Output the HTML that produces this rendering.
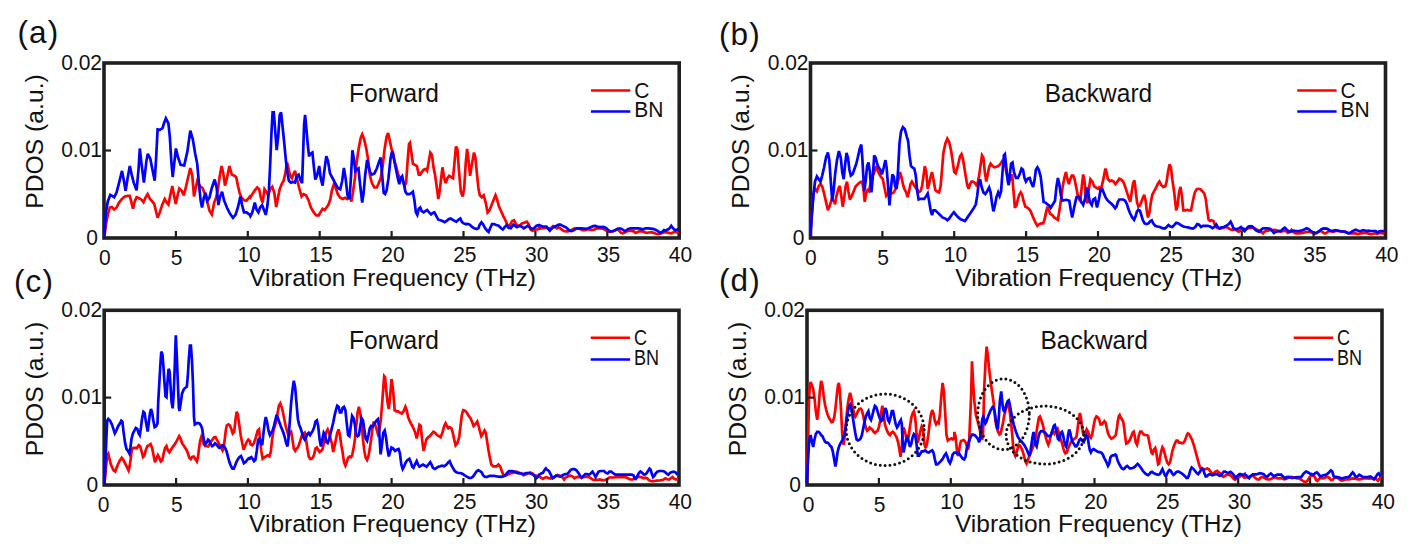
<!DOCTYPE html>
<html><head><meta charset="utf-8"><style>
html,body{margin:0;padding:0;background:#fff;overflow:hidden;}
svg{display:block;}
text{font-family:"Liberation Sans", sans-serif;fill:#111;}
</style></head><body>
<svg width="1420" height="553" viewBox="0 0 1420 553">
<rect x="104.0" y="63.0" width="575.2" height="175" fill="none" stroke="#202020" stroke-width="3.6"/>
<path d="M104.4 236.8L105.9 224.6L107.8 214.9L109.8 207.5L111.7 207L114.2 209.5L116.6 207.5L119 202.6L122 199L124.4 196.8L127.3 195.8L129.8 195.8L131.2 201.4L133 208.8L134.7 201.4L136.6 197.3L139.1 198.3L141.5 199.7L143.5 202.2L145.4 197.8L147.6 194.1L150 199L152.2 201.4L154.2 203.9L155.7 210L157.6 217.8L159.8 212.4L162.3 204.6L164.7 199L166.4 202.2L168.4 204.6L170.3 195.3L172.3 186L174 195.3L175.7 203.9L177.6 195.3L179.3 188.5L181.8 190.9L183.7 195.3L185.4 189.2L187.9 178.2L190.3 168L192.3 175.8L194 196.5L195.7 188L197.2 181.2L198.9 184.3L200.6 186.8L202.5 188L204.5 192.9L206.9 200.2L209.4 210.5L211.8 214.4L214.2 202.6L216.2 197.3L217.9 189.2L219.6 177L221.6 166L223.3 173.4L225 185.6L226.9 178.2L229.4 166L231.8 174.6L234.3 175.8L236.2 177L237.9 185.6L239.6 192.9L241.6 197.8L244 200.2L246.5 200.7L249.9 196.5L250.4 197.3L252.3 194.1L254.8 190.4L257.2 187.5L259.2 189.2L260.9 197.8L262.6 202.6L264.5 189.2L266.2 191.7L268.2 195.3L270.1 189.2L272.3 186.8L274.3 192.9L276.2 207L278 197.8L279.7 189.2L281.6 184.3L283.6 180.7L285.3 173.4L287 162.4L288.5 168.5L290.2 175.8L291.9 178.2L293.3 174.6L295 170.9L296.8 178.2L299.2 188L301.6 196.5L303.6 194.1L306 195.3L308.5 200.2L310.9 207.5L313.8 212.4L316.3 215.3L318.7 215.3L320.7 211.9L322.6 208.8L324.6 210L326.5 207.5L328.5 204.6L330.4 199L331.9 190.4L333.9 184.3L335.8 188L337.8 194.1L340.2 197.8L342.6 199L345.1 197.8L347 199L349.5 196.5L351.4 201.4L352.9 192.9L354.9 178.2L356.8 161.1L358.8 147.7L360.7 138L362.2 134.3L364.1 139.2L366.1 147.7L368 158.7L370 175.8L371.9 183.1L374.4 187.5L376.8 187.5L378.8 183.1L380.7 178.2L382.7 166L384.6 148.9L386.6 136.7L388.1 133.1L390 141.6L391.5 148.9L393.4 153.8L394.4 161.1L396.1 166L397.8 173.4L399.3 177L401 178.2L402.7 180.7L404.6 185.6L406.1 183.1L407.6 161.1L409 144.1L410 142.8L411.5 153.8L412.9 163.6L414.9 164.8L416.9 166L418.8 174.6L420.3 174.6L421.7 172.1L423.7 169.7L425.6 169L427.1 170.9L428.6 162.4L430.3 152.6L432 155L433.5 167.3L435.2 175.8L436.9 188L438.3 199L439.8 190.4L441.3 177L442.5 167.3L444.2 178.2L445.7 183.1L447.4 178.2L449.1 175.8L451 177L453 178.2L454.4 163.6L455.9 146.5L457.4 148.9L458.8 168.5L460.8 191.7L462.7 196.5L464.2 188L465.7 163.6L467.1 148.9L468.6 161.1L470.1 175.8L472 163.6L474 152.6L475.4 157.5L476.9 173.4L478.4 188L479.8 195.3L481.8 197.3L483.7 195.3L485.7 202.6L487.6 212.4L489.6 210L491.6 205.1L493.5 200.2L495.5 195.3L496.9 199L498.9 206.3L501.1 211.2L503.3 216.1L505.2 219.7L507.2 224.6L509.6 225.8L512.1 221L514 220.2L516 224.1L517.9 225.8L519.9 225.8L521.8 223.4L524.3 222.7L526.7 221.7L528.7 224.1L530.6 229.5L532.6 230.7L534.5 230L536.5 229.5L538.9 229L539 227.7L541.1 228.3L543.5 228.1L545.9 227.7L547.7 228.3L549.5 228.9L551.4 227.7L553.2 226.1L555 226.9L556.8 228.3L558.6 227.3L560.4 228.3L562.3 230.1L564.1 231L565.9 231.3L567.7 231.3L569.5 231L571.3 230.1L573.2 228.9L575 228.3L577.4 228.3L579.8 228.9L582.3 230.1L584.7 230.1L587.1 229.5L589.5 229.5L591.9 230.1L594.4 229.5L596.8 228.3L599.2 228.3L601.6 228.3L604.1 229.3L606.5 230.7L608.3 231.7L610.1 231.9L612.5 231.3L615 230.1L617.4 228.9L619.2 230.7L621 232.9L622.8 233.4L624.7 232.5L627.1 231.3L629.5 230.7L631.9 231L633.7 231.3L635.6 232.9L637.4 232.2L639.2 231.3L641.6 231.3L644 231.9L646.5 232.9L648.9 232.5L651.3 232.2L653.7 232.9L656.2 233.8L658 234.1L659.8 233.8L661.6 233.2L663.4 232.5L665.2 232.2L667.1 232.5L668.9 232.9L670.7 233.4L672.5 232.9L674.3 231.9L676.1 231.9L677.4 232.5L678.3 233.2" fill="none" stroke="#ff0000" stroke-width="2.7" stroke-linejoin="miter" stroke-miterlimit="3" stroke-linecap="butt"/>
<path d="M104.4 236.8L105.9 212.4L107.8 201.4L110.3 194.8L112.2 195.8L114.2 197.3L116.6 192.4L119 183.1L122 170.9L123.9 180.7L125.6 190.9L127.6 178.2L129.8 166L131.7 174.6L133.7 182.6L136.6 190.4L138.6 168.5L139.8 148.5L141.5 163.6L143.9 182.6L146.4 161.1L147.8 153.8L150.3 158.7L152.2 168.5L154.7 180.7L156.1 158.7L157.6 129.4L159.8 129.9L162.5 128.2L164 123.3L165.9 118.4L168.4 123.3L169.8 136.7L171.3 161.1L172.7 177L174.2 163.6L175.9 148.5L178.1 157.5L180.6 164.8L184.2 165.5L187.4 151.4L190.3 130.6L192.8 139.2L195.2 153.8L197.2 163.6L198.9 183.1L200.6 200.2L202 207.5L203.8 197.8L205.5 192.9L207.4 200.7L209.4 197.8L211.8 188L214.7 179.5L216.7 188L218.4 205.1L220.1 196.5L222.1 191.7L224 200.2L226.9 207.5L229.9 213.6L233 217.8L235.5 214.9L237.9 207.5L240.4 196.5L242.1 205.1L244 212.4L246.5 212.4L249.9 214.9L250.4 216.1L252.3 212.4L254.8 202.6L256.7 210L258.4 212.4L260.1 207.5L262.1 205.1L264 210L265.8 214.9L267.5 205.1L268.9 190.4L270.1 166L271.4 134.3L272.6 112.3L273.8 112.3L275.3 131.9L276.7 150.2L278.2 136.7L279.7 114.8L281.1 112.3L282.6 127L284.1 141.6L285.5 156.3L287 170.9L288.9 180.7L290.9 182.6L292.8 181.9L295 182.6L296.8 175.8L298.7 174.6L300.7 180.7L302.1 183.1L303.1 153.8L304.1 124.5L305.1 114.8L306 124.5L307.5 141.6L309 156.3L310.4 153.8L312.4 152.6L313.8 166L315.3 179.5L317 175.8L319.2 166L320.7 178.2L322.6 185.6L324.3 170.9L326.3 156.3L328 161.1L330 173.4L331.9 177L333.9 180.7L335.8 184.3L337.8 188L340.2 189.2L342.2 180.7L343.9 168L345.6 178.2L347.5 195.3L349.5 199L350.9 178.2L352.4 150.2L353.9 158.7L355.3 170.9L356.8 169.7L358.5 168.5L360.2 185.6L362.2 202.6L363.6 192.9L365.1 175.8L367.1 159.9L368.5 166L370 172.1L371.9 174.6L374.4 173.4L376.8 168.5L378.8 162.4L380.7 157.5L382.2 175.8L383.7 192.9L385.1 194.1L386.6 190.4L388.5 178.2L390.5 158.7L392 151.4L393.9 158.7L394.4 161.1L396.1 169.7L397.8 178.2L399.3 184.3L400.7 178.2L402.2 176.3L403.7 183.1L405.4 191.7L407.1 194.1L409.5 194.1L411.5 192.9L412.9 191.7L414.4 200.2L415.9 212.4L417.3 214.9L418.8 208.8L420.3 207.5L421.7 211.2L423.7 212.4L425.4 211.2L427.1 210L429.1 212.4L431 214.4L432.7 212.9L434.4 212.4L436.4 216.1L438.3 219.7L440.3 220.2L442.5 221L444.7 222.2L446.6 221L448.6 219.2L450.5 218.5L452.5 219.7L454.7 221L456.4 221.7L458.4 219.7L460.3 218.5L462 222.2L463.7 223.4L465.7 224.1L467.6 223.9L469.6 224.6L471.8 226.6L474.2 228.3L476.7 229L478.4 228.3L479.8 224.6L481.5 222.2L483.3 224.6L485.2 228.3L487.2 230.7L488.6 231.9L490.1 228.3L492 224.1L494 224.1L496.2 225.1L498.6 225.8L501.1 228.3L502.8 229.5L504.7 227.1L506.7 225.1L508.6 227.8L510.8 228.3L513.3 224.6L515 225.8L516.9 227.1L519.4 225.8L521.8 226.6L523.8 228.3L525.7 227.1L527.7 225.8L529.6 227.1L531.6 229L534 228.3L536.5 225.8L538.9 225.1L539 225.3L540.5 225.6L542.3 226.5L544.7 226.5L546.5 226.5L548.3 228.9L549.8 230.7L551.4 228.9L553.2 227.3L555 226.5L556.8 225.6L558.6 224.7L560.4 224.7L562.3 225.6L564.1 226.5L565.9 227.3L567.7 228.9L569.5 230.5L571.3 231L573.2 230.5L575 229.3L576.8 228.3L578.6 228.3L581 228.3L583.5 228.6L585.9 228.9L588.3 228.3L590.7 227.3L593.2 226.1L595.6 225.9L598 226.9L600.4 227.1L602.8 226.9L604.7 227.3L606.5 228.3L608.3 230.1L610.1 231.3L611.9 231.3L613.8 231L615.6 230.1L617.4 228.9L619.8 228.3L621.6 228.9L623.4 230.1L624.9 231L626.5 230.1L628.3 228.9L630.7 228.3L633.1 228.3L635.6 228.3L638 228.3L640.4 228.6L642.2 229.5L644 228.9L645.9 228.3L648.3 228.3L650.7 228.6L653.1 228.9L654.9 229.5L656.8 230.5L658.6 231.7L660.4 232.9L662.2 231.9L664 230.1L665.8 230.7L667.7 229.5L669.5 228.3L671.3 225.9L672.5 227.7L674.1 229.5L675.5 230.1L677.4 229.5L678.3 228.9" fill="none" stroke="#0000ff" stroke-width="2.7" stroke-linejoin="miter" stroke-miterlimit="3" stroke-linecap="butt"/>
<line x1="175.9" y1="238.0" x2="175.9" y2="231.0" stroke="#1e1e1e" stroke-width="2.2"/>
<line x1="247.8" y1="238.0" x2="247.8" y2="231.0" stroke="#1e1e1e" stroke-width="2.2"/>
<line x1="319.7" y1="238.0" x2="319.7" y2="231.0" stroke="#1e1e1e" stroke-width="2.2"/>
<line x1="391.6" y1="238.0" x2="391.6" y2="231.0" stroke="#1e1e1e" stroke-width="2.2"/>
<line x1="463.5" y1="238.0" x2="463.5" y2="231.0" stroke="#1e1e1e" stroke-width="2.2"/>
<line x1="535.4" y1="238.0" x2="535.4" y2="231.0" stroke="#1e1e1e" stroke-width="2.2"/>
<line x1="607.3" y1="238.0" x2="607.3" y2="231.0" stroke="#1e1e1e" stroke-width="2.2"/>
<line x1="104.0" y1="150.5" x2="111.0" y2="150.5" stroke="#1e1e1e" stroke-width="2.2"/>
<text transform="translate(104.9,264.5) scale(1,1.04)" font-size="21" text-anchor="middle">0</text>
<text transform="translate(176.6,265) scale(1,1.04)" font-size="21" text-anchor="middle">5</text>
<text transform="translate(249.1,262.2) scale(1,1.04)" font-size="21" text-anchor="middle">10</text>
<text transform="translate(321.0,262.2) scale(1,1.04)" font-size="21" text-anchor="middle">15</text>
<text transform="translate(392.9,262.2) scale(1,1.04)" font-size="21" text-anchor="middle">20</text>
<text transform="translate(464.8,262.2) scale(1,1.04)" font-size="21" text-anchor="middle">25</text>
<text transform="translate(536.7,262.2) scale(1,1.04)" font-size="21" text-anchor="middle">30</text>
<text transform="translate(608.6,262.2) scale(1,1.04)" font-size="21" text-anchor="middle">35</text>
<text transform="translate(680.5,262.2) scale(1,1.04)" font-size="21" text-anchor="middle">40</text>
<text transform="translate(102.0,69.5) scale(1,1.04)" font-size="21" text-anchor="end">0.02</text>
<text transform="translate(102.0,157) scale(1,1.04)" font-size="21" text-anchor="end">0.01</text>
<text transform="translate(98.0,244.5) scale(1,1.04)" font-size="21" text-anchor="end">0</text>
<text x="392.6" y="286.1" font-size="24.5" text-anchor="middle">Vibration Frequency (THz)</text>
<text font-size="24.7" text-anchor="middle" transform="translate(43.3,141.5) rotate(-90)">PDOS (a.u.)</text>
<text transform="translate(394.0,101.8) scale(1,1.06)" font-size="24.5" text-anchor="middle">Forward</text>
<line x1="590.95" y1="90.5" x2="630.3000000000001" y2="90.5" stroke="#ff0000" stroke-width="2.5"/>
<line x1="590.95" y1="111.6" x2="630.3000000000001" y2="111.6" stroke="#0000ff" stroke-width="2.5"/>
<text transform="translate(634.2,98) scale(1.0,1.04)" font-size="21">C</text>
<text transform="translate(634.2,117) scale(1.0,1.04)" font-size="21">BN</text>
<text x="17.5" y="43.2" font-size="31.5" letter-spacing="1.1">(a)</text>
<rect x="810.5" y="63.0" width="575" height="175" fill="none" stroke="#202020" stroke-width="3.6"/>
<path d="M810.3 236.5L811.7 215L813.4 193.5L815 188.8L816.9 191.2L818.8 185.9L820.5 184L822.2 186.4L824.1 193.5L826 201.9L827.9 210.3L829.8 205.5L831.7 199.5L833.6 200.7L835.1 204.3L836.5 195.9L838.4 188.8L839.8 185.9L841.3 195.9L842.7 206.7L844.1 198.3L845.6 186.4L847 181.6L848.4 191.2L849.9 199.5L851.8 195.9L853.7 191.2L855.6 186.4L858 184L860.4 182.1L862.3 181.6L863.7 191.2L864.7 201.9L866.1 193.5L867.5 190L869 191.2L870.4 184L872.3 176.8L874.2 172.5L876.1 166.1L877.8 170.9L879.5 174.4L880.9 176.8L882.8 179.2L884.7 188.8L886.2 195.9L888.1 193.5L890 193.5L891.9 193.5L893.8 192.4L895.7 188.8L897.1 184L898.6 179.2L900 172.1L901.4 176.8L902.9 184L904.3 188.8L906.2 192.4L907.6 197.1L909.1 191.2L910.5 184L911.9 181.6L913.4 184L914.8 186.4L916.7 188.8L918.6 192.4L920.5 191.2L922 186.4L923.4 176.8L924.8 166.1L926.3 172.1L927.7 188.8L929.1 184L930.6 176.8L932 172.1L933.4 179.2L935.3 190L937.2 191.6L939.1 192.4L940.6 186.4L942 169.7L943.4 153L945.4 143.4L947.3 138.6L949.2 142.2L951.1 150.6L952.5 160.1L953.9 169.7L954.3 172.1L955.7 173.3L957.2 168.5L958.6 162.5L960 156.5L961.5 154.2L962.9 158.9L964.3 167.3L965.8 176.8L967.2 185.2L968.6 188.8L970.1 184L971.5 181.6L972.9 181.6L974.8 182.8L976.3 185.2L977.7 182.8L979.1 175.6L980.6 164.9L982 155.4L983.4 157.7L984.8 172.1L986.3 181.6L987.7 174.4L989.1 167.3L990.6 163.7L992.5 166.1L994.4 167.3L996.3 166.8L998.2 166.1L1000.1 164.4L1002 161.3L1003.9 163.7L1005.4 167.3L1007.3 176.8L1009.2 181.6L1010.6 178L1012.1 174.4L1013.5 191.2L1014.9 207.9L1016.4 205.5L1017.8 199.5L1019.2 194.7L1020.7 192.4L1022.1 194.7L1023.5 200.7L1025.4 206.7L1027.8 207.9L1030.2 210.3L1032.1 215L1034 219.3L1035.9 223.4L1037.4 225.8L1039.3 224.1L1041.2 223.4L1043.1 223.4L1044.5 219.8L1046 212.6L1047.4 206.7L1048.8 210.3L1050.3 213.8L1052.2 215L1054.1 217.4L1056 218.6L1057.9 219.8L1059.8 207.9L1061.2 198.3L1062.7 186.4L1064.6 176.8L1066 172.1L1067.4 179.2L1068.9 184L1070.3 179.2L1071.7 175.6L1073.2 175.6L1074.6 179.2L1076.5 188.8L1078.4 198.3L1080.3 200.7L1081.8 186.4L1083.2 174.4L1084.6 181.6L1086.1 200.7L1087.5 203.1L1088.9 188.8L1090.4 179.2L1092.3 181.6L1094.2 186.4L1096.1 187.6L1098 188.8L1098.9 187.6L1099.3 188.3L1100.3 188.8L1101.7 186.4L1103.1 180.4L1104.5 173.3L1105.5 168.5L1106.5 172.1L1107.9 179.2L1109.8 181.1L1111.7 180.4L1113.6 181.6L1115.5 184L1117.4 181.6L1119.3 178.7L1121.3 179.7L1123.2 181.6L1125.1 186.4L1127 192.4L1128.9 198.3L1130.3 201.9L1131.8 191.2L1133.2 182.8L1134.4 180.4L1135.6 190L1137 201.9L1138.4 206.7L1139.9 205.5L1141.3 201.9L1142.7 198.3L1144.2 194.7L1145.6 200.7L1147 212.6L1148 217.4L1149.4 212.6L1150.9 201.9L1152.3 194.7L1154.2 191.2L1156.1 187.6L1158 183.5L1159.4 181.6L1161.4 185.2L1163.3 186.9L1165.2 186.4L1166.6 181.6L1168 172.1L1169.5 164.4L1170.9 167.3L1172.3 179.2L1174.2 192.4L1176.2 210.3L1177.6 205.5L1179 192.4L1180.5 186.9L1181.9 195.9L1183.3 210.3L1185.2 210.3L1187.1 209.8L1189 210.3L1191 210.3L1192.9 200.7L1194.8 192.4L1196.7 189.2L1198.6 188.8L1200.5 189.2L1202.4 191.2L1204.3 193.5L1205.8 199.5L1207.2 210.3L1208.6 219.8L1210.1 221L1211.5 220.3L1213.4 221L1214.8 224.6L1216.7 227.4L1218.6 228.4L1220.6 228.4L1222.9 227.9L1225.3 227L1227.7 227.7L1230.1 229.3L1232.5 229.8L1234.9 229.3L1236.8 230.5L1238.7 231.7L1240.6 230.5L1243 229.3L1243 229.5L1244.8 230.1L1246.7 228.9L1248.5 228.1L1250.3 228.1L1252.1 227.3L1253.9 228.1L1255.8 228.9L1257.6 230.1L1259.4 230.7L1261.2 231.9L1263 233.4L1264.2 231.9L1266 231L1267.9 230.7L1269.7 230.1L1271.5 229.8L1273.3 230.1L1275.1 229.8L1277 230.5L1278.8 231L1280.6 231.9L1282.4 231.3L1284.2 230.7L1286 231.3L1287.9 232.9L1289.7 231.9L1291.5 229.8L1293.3 231.9L1295.1 233.2L1296.9 233.4L1298.8 233.4L1300.6 233.2L1302.4 232.9L1304.2 232.5L1306 232.2L1307.8 231.9L1309.7 231.9L1311.5 232.2L1313.3 233.2L1315.1 233.4L1316.9 232.9L1318.8 231.7L1320.6 231L1322.4 231.9L1324.2 233.4L1326 233.2L1327.8 231.7L1329.7 231L1331.5 231.3L1333.3 231.9L1335.1 231.3L1336.9 230.7L1338.7 231L1340.6 231.3L1342.4 231.3L1344.2 231.3L1346 231.9L1347.8 232.9L1349.6 233.4L1351.5 233.4L1353.3 233.4L1355.1 233.2L1356.9 233.8L1358.7 233.8L1360.6 233.4L1362.4 233.2L1364.2 232.9L1366 232.9L1367.8 233.4L1369.6 233.8L1371.5 234.1L1373.3 233.8L1375.1 233.2L1376.9 233.8L1378.7 233.2L1380.5 232.9L1382.4 233.2L1384.2 233.8" fill="none" stroke="#ff0000" stroke-width="2.7" stroke-linejoin="miter" stroke-miterlimit="3" stroke-linecap="butt"/>
<path d="M810.3 236.5L811.7 217.4L813.4 195.9L815 181.6L816.9 176.4L818.8 179.2L820.5 181.6L822.2 175.6L824.1 167.3L826 157.7L827.9 152.5L829.3 160.1L830.8 181.6L832.2 200.7L833.6 191.2L835.1 174.4L837 160.1L838.9 151.1L840.8 157.7L842.2 172.1L843.7 179.2L845.1 164.9L846.5 153L848 157.7L849.4 169.7L850.8 175.6L852.7 174L854.6 168.5L856.3 163.7L858 156.5L859.9 148.2L861.3 144.6L862.3 157.7L863.2 174.4L864.2 191.2L865.6 181.6L867.1 166.1L868.5 162.5L869.9 172.1L871.4 192.4L872.8 176.8L874.2 155.4L875.7 157.7L877.1 163.7L878.5 167.3L880.2 169.7L881.9 174.4L883.8 167.3L885.4 160.1L886.6 167.3L888.1 186.4L889.5 205.5L890.9 188.8L892.4 174.4L893.8 176.8L895.2 186.4L896.7 188.8L898.1 169.7L899.5 143.4L901 131.5L902.9 127.2L904.8 129.1L906.7 136.3L908.1 141L909.5 155.4L911 166.1L912.4 167.3L914.3 168.5L915.8 175.6L917.2 191.2L918.6 199.5L920.5 198.8L922.4 198.8L924.3 198.8L926.3 195.9L927.7 193.5L929.1 200.7L930.6 210.3L932 215L933.4 210.3L935.3 210.3L937.7 212.6L940.1 215L942.5 217.4L945.4 218.6L947.3 220.3L949.2 218.6L951.6 215L953.9 212.2L954.3 212.6L956 215L958.4 217.4L960.7 219.3L963.1 220.3L964.8 221L966.7 218.6L969.1 215L971.5 211.4L973.9 207.9L975.8 204.3L977.2 195.9L978.6 184L980.1 179.2L981.5 186.4L983.4 192.4L985.3 194L987.2 191.2L989.1 187.6L990.6 192.4L992 203.1L993.4 211.4L994.9 205.5L996.5 197.1L998.2 192.4L999.6 195.9L1001.1 191.2L1002.5 172.1L1003.9 155.4L1004.9 154.2L1006.3 167.3L1007.8 181.6L1008.7 185.2L1009.7 175.6L1011.1 163.7L1012.5 162.5L1014 172.1L1015.9 178L1017.8 178L1019.7 174L1021.6 168.5L1023 169.7L1024.5 178L1025.9 181.6L1027.8 178.7L1029.7 178L1031.2 182.8L1033.1 186.9L1034.5 180.4L1035.9 169.7L1037.4 167.3L1038.8 169.7L1040.7 176.8L1042.1 188.8L1043.6 201.9L1045.5 202.6L1047.4 204.3L1049.3 205.5L1050.7 207.9L1052.2 205.5L1053.6 203.1L1055 200.7L1056.5 186.4L1057.9 178L1059.3 184L1060.8 194.7L1062.2 200.7L1064.1 200.2L1066 199.8L1067.9 200.2L1069.3 200.7L1070.8 210.3L1072.2 217.4L1073.6 210.3L1075.1 203.1L1076.5 197.1L1077.9 196.4L1079.4 197.1L1081.3 201.9L1083.2 205L1085.1 198.3L1087 187.6L1088.4 194.7L1089.9 201.9L1091.8 205L1093.2 199.5L1095.1 198.3L1097 207.4L1098.9 199.5L1100.7 188.8L1102.2 188.8L1103.6 192.4L1105.5 197.1L1107.4 200.2L1109.3 201.9L1111.2 203.6L1113.1 205.5L1115.1 208.3L1116.5 206.7L1117.9 201.9L1119.3 199.5L1121.3 199.5L1123.2 199.5L1125.1 200.7L1127 204.3L1128.4 209.1L1130.3 213.8L1132.2 217.4L1134.1 219.8L1135.6 216.2L1137 211.4L1138.4 209.8L1139.9 210.7L1141.3 215L1142.7 219.8L1144.6 223.4L1146.6 224.1L1148.5 223.4L1150.4 221L1151.8 220.3L1153.2 223.4L1155.2 225.8L1157.5 226.5L1159.9 227L1162.3 228.2L1164.7 228.6L1166.6 227L1168.5 225.1L1170.4 226.5L1172.3 227L1174.2 225.1L1176.2 222.7L1178.5 223.4L1180.9 225.1L1183.3 226.5L1185.7 227L1188.1 227.4L1190.5 228.2L1192.9 228.6L1195.3 227L1197.2 224.1L1199.1 224.6L1201 227L1202.9 225.8L1205.3 225.8L1207.7 225.8L1210.1 226.5L1212.4 228.2L1214.3 227L1216.3 224.6L1217.7 227L1219.6 228.4L1221.5 227.4L1223.9 227L1226.3 225.8L1228.7 224.1L1230.6 221.7L1232 224.6L1233.4 228.2L1235.4 229.3L1237.3 228.9L1239.2 228.2L1241.1 227L1243 229.3L1243 228.3L1244.8 230.7L1246.7 228.3L1248.5 226.5L1250.3 226.1L1252.1 226.5L1253.9 228.3L1255.8 230.1L1257.6 231.3L1259.4 231.7L1261.2 229.8L1263 228.3L1265.4 228.3L1267.9 228.3L1270.3 228.9L1272.1 230.7L1273.9 232.9L1275.7 231.9L1277.6 231.3L1279.4 231L1281.2 230.7L1283 228.9L1284.8 227.7L1286.6 229.5L1288.5 231.3L1290.3 231.9L1292.1 231.3L1293.9 230.7L1295.7 231L1297.5 231L1299.4 231L1301.2 230.7L1303 230.1L1304.8 229.3L1306.6 228.3L1308.5 228.9L1310.3 230.5L1312.1 231.9L1313.9 232.9L1315.7 233.2L1317.5 232.2L1319.4 231L1321.2 229.5L1323 228.6L1324.8 228.3L1326.6 228.6L1328.4 229.5L1330.3 230.7L1332.1 231L1333.9 230.5L1335.7 230.1L1337.5 230.7L1339.3 231L1341.2 231.3L1343 231.3L1344.8 231.9L1346.6 232.5L1348.4 233.4L1350.3 232.9L1352.1 231.3L1353.9 230.5L1355.7 229.8L1357.5 230.5L1359.3 231L1361.2 231L1363 230.1L1364.8 230.5L1366.6 231L1368.4 230.7L1370.2 231L1372.1 231L1373.9 231L1375.7 231L1377.5 232.5L1379.3 231.3L1381.1 231L1383 231L1384.2 231.3" fill="none" stroke="#0000ff" stroke-width="2.7" stroke-linejoin="miter" stroke-miterlimit="3" stroke-linecap="butt"/>
<line x1="882.4" y1="238.0" x2="882.4" y2="231.0" stroke="#1e1e1e" stroke-width="2.2"/>
<line x1="954.2" y1="238.0" x2="954.2" y2="231.0" stroke="#1e1e1e" stroke-width="2.2"/>
<line x1="1026.1" y1="238.0" x2="1026.1" y2="231.0" stroke="#1e1e1e" stroke-width="2.2"/>
<line x1="1098.0" y1="238.0" x2="1098.0" y2="231.0" stroke="#1e1e1e" stroke-width="2.2"/>
<line x1="1169.9" y1="238.0" x2="1169.9" y2="231.0" stroke="#1e1e1e" stroke-width="2.2"/>
<line x1="1241.8" y1="238.0" x2="1241.8" y2="231.0" stroke="#1e1e1e" stroke-width="2.2"/>
<line x1="1313.6" y1="238.0" x2="1313.6" y2="231.0" stroke="#1e1e1e" stroke-width="2.2"/>
<line x1="810.5" y1="150.5" x2="817.5" y2="150.5" stroke="#1e1e1e" stroke-width="2.2"/>
<text transform="translate(810.9,264.5) scale(1,1.04)" font-size="21" text-anchor="middle">0</text>
<text transform="translate(883.1,265) scale(1,1.04)" font-size="21" text-anchor="middle">5</text>
<text transform="translate(955.5,262.2) scale(1,1.04)" font-size="21" text-anchor="middle">10</text>
<text transform="translate(1027.4,262.2) scale(1,1.04)" font-size="21" text-anchor="middle">15</text>
<text transform="translate(1099.3,262.2) scale(1,1.04)" font-size="21" text-anchor="middle">20</text>
<text transform="translate(1171.2,262.2) scale(1,1.04)" font-size="21" text-anchor="middle">25</text>
<text transform="translate(1243.0,262.2) scale(1,1.04)" font-size="21" text-anchor="middle">30</text>
<text transform="translate(1314.9,262.2) scale(1,1.04)" font-size="21" text-anchor="middle">35</text>
<text transform="translate(1386.8,262.2) scale(1,1.04)" font-size="21" text-anchor="middle">40</text>
<text transform="translate(808.5,69.5) scale(1,1.04)" font-size="21" text-anchor="end">0.02</text>
<text transform="translate(808.5,157) scale(1,1.04)" font-size="21" text-anchor="end">0.01</text>
<text transform="translate(804.5,244.5) scale(1,1.04)" font-size="21" text-anchor="end">0</text>
<text x="1098.7" y="286.1" font-size="24.5" text-anchor="middle">Vibration Frequency (THz)</text>
<text font-size="24.7" text-anchor="middle" transform="translate(748.9,141.5) rotate(-90)">PDOS (a.u.)</text>
<text transform="translate(1098.4,101.8) scale(1,1.06)" font-size="24.5" text-anchor="middle">Backward</text>
<line x1="1297.25" y1="90.5" x2="1336.6" y2="90.5" stroke="#ff0000" stroke-width="2.5"/>
<line x1="1297.25" y1="111.6" x2="1336.6" y2="111.6" stroke="#0000ff" stroke-width="2.5"/>
<text transform="translate(1340.5,98) scale(1.0,1.04)" font-size="21">C</text>
<text transform="translate(1340.5,117) scale(1.0,1.04)" font-size="21">BN</text>
<text x="719.0" y="44.7" font-size="31.5" letter-spacing="1.1">(b)</text>
<rect x="104.2" y="310.3" width="574.8" height="174.7" fill="none" stroke="#202020" stroke-width="3.6"/>
<path d="M104.5 484L105.8 469.6L107.2 455.1L108.3 453.7L109.4 458.7L110.8 464.1L112.3 467.8L113.7 470.5L115.2 471.4L116.6 467.8L118.1 464.1L119.9 460.5L121.7 457.8L123.1 459.6L125 463.2L126.8 466.9L128.6 470.5L129.7 465.9L130.7 458.7L131.8 449.7L133.3 447.9L135.1 447.9L136.9 448.2L138.7 445.2L140.1 446.1L141.6 451.5L143 456.9L144.5 455.1L145.9 449.7L147.4 446.1L149.2 445.2L150.6 444.2L152.1 447.9L153.5 455.1L155 462.3L156.4 458.7L157.9 455.1L159.3 457.8L160.8 461.4L162.2 460.5L163.7 453.3L165.1 447.9L166.5 446.1L168 450.6L169.4 452.4L170.9 449.7L172.3 447.5L174.1 445.2L175.9 442.4L177.8 438.8L179.2 436.1L180.7 438.8L182.1 443.3L183.5 445.2L185 447.5L186.4 449.7L187.9 453.3L189.3 457.8L190.8 459.1L192.2 456.9L193.7 456.5L195.1 458.7L196.9 461.4L198 456.9L199.1 447.9L200.2 440.6L201.3 437L202.4 439.7L203.8 444.2L205.2 446.1L206.7 446.1L208.1 446.4L209.6 444.2L211 441.5L212.5 439.7L213.9 437.4L215.4 437L216.8 439.7L218.3 442.4L219.7 445.2L221.2 447.9L222.6 450.6L223.7 447.9L224.8 438.8L225.9 429.8L226.9 425.3L228.4 424.4L229.8 425.3L231.3 428.9L232.7 433.4L234.2 431.6L235.6 418.9L236.7 411.7L237.8 414.4L239.2 424.4L240.7 435.2L242.1 442.4L243.6 449.7L245 446.1L246.5 442.4L248.3 439.7L249.7 441.2L250 441.2L250.4 444.1L252.2 445.2L254 443L255.8 437.3L257.7 430.6L259 429.4L259.9 437.3L261.3 450.9L262.6 458.8L264 457.7L265.8 456.5L267.6 455.4L269.4 456.5L270.8 452L272.1 439.6L273.5 430.6L274.8 426L276.2 421.5L277.5 413.6L278.9 405.7L280.3 403.4L281.6 406.8L283 412.5L284.3 419.2L285.7 426L287 430.6L288.4 435.1L289.8 432.8L291.1 431.7L292.5 439.6L293.8 448.6L295.2 450.9L296.5 448.6L297.9 447.5L299.2 444.1L300.6 439.6L302 435.1L303.3 433.9L304.7 432.8L306 439.6L307.4 448.6L308.7 456.5L310.1 458.8L311.5 458.8L312.8 457.7L314.2 454.3L315.5 448.6L316.9 447.5L318.2 449.8L319.6 452L320.9 450.9L322.3 449.8L323.7 444.1L325 437.3L326.4 431.7L327.7 429.4L329.1 432.8L330.4 438.5L331.8 443L333.2 452L334.5 446.4L335.9 439.6L337.2 432.8L338.6 429.4L339.9 435.1L341.3 445.2L342.6 452L344 462.2L345.4 465.6L346.7 462.2L348.1 457.7L349.4 456.5L350.8 457.2L352.1 455.4L353.5 448.6L354.9 439.6L356.2 426L357.6 412.5L358.9 406.8L360.3 413.6L361.6 423.8L363 439.6L364.3 450.9L365.7 457.7L367.1 459.9L368.4 456.5L369.8 448.6L371.1 439.6L372.5 428.3L373.8 421.5L375.2 424.9L376.6 429.4L377.9 433.9L379.3 430.6L380.6 421.5L382 405.7L383.3 387.6L384.2 376.3L385.1 377.4L386 387.6L387.4 401.2L388.8 409.1L390.1 396.6L391.5 379L392.8 387.6L394.2 403.4L394.6 410.2L395 410.2L396.3 411.3L398.1 411.3L399.9 412.5L401.8 413.6L403.6 411.3L405.4 406.8L406.7 410.2L408.1 417L409.9 421.5L411.7 424.9L413.5 428.3L415.3 432.8L416.7 438.5L418 432.8L419.4 424.9L420.7 426L422.1 439.6L423.5 450.9L424.8 446.4L426.2 439.6L428 437.3L429.8 436.2L431.6 433.9L433.4 431.7L435.2 432.8L437 435.1L438.8 436.2L440.6 437.3L442.4 432.8L444.2 426L445.6 423.3L447 426L448.3 428.3L449.7 427.2L451.5 428.3L452.8 432.8L454.2 439.6L455.6 445.2L457.4 443L459.2 437.3L460.5 426L461.9 414.7L463.2 410.2L465 410.7L466.9 412.9L468.7 415.9L470.5 418.1L472.3 422.6L473.6 426L475.4 424.2L477.3 421.5L478.6 426L480 431.7L481.3 436.2L482.7 433.9L484.5 430.6L485.8 432.8L487.2 441.9L488.6 450.9L489.9 457.7L491.3 464.5L493.1 466.3L494.9 466.3L496.7 466.3L498.5 464.5L500.3 466.7L501.7 470.8L503 474L504.4 475.8L506.2 475.3L508 474.6L509.8 473.5L512.1 473L514.3 472.4L516.6 471.7L518.8 472.4L521.1 473.5L523.4 475.3L525.6 474.6L527.9 473.5L530.1 472.4L532.4 473.5L534.7 475.3L536.9 475.8L539.2 476.9L539.6 476.9L541.1 477.7L542.9 478.9L544.7 477.7L546.5 477.1L548.3 478.1L550.1 478.6L552 477.7L553.8 477.1L555.6 475.9L557.4 474.9L559.2 475.6L561 476.5L562.9 477.7L564.1 479.5L565.3 477.7L567.1 476.9L568.9 475.9L570.7 475.6L572.6 476.5L574.4 478.3L576.2 477.3L578 476.9L579.8 477.1L581.6 477.3L583.5 477.1L585.3 476.9L587.1 476.9L588.9 477.1L590.7 478.1L592.5 479.5L594.4 479.8L596.2 479.8L598 479.8L599.8 479.5L601.6 480.1L603.5 480.1L605.3 480.1L607.1 479.3L608.9 477.7L610.7 477.3L612.5 477.7L614.4 477.1L616.2 477.1L618 477.1L619.8 477.1L621.6 477.1L623.4 477.1L625.3 477.1L627.1 477.7L628.9 478.9L630.7 479.5L632.5 479.5L634.3 478.9L636.2 477.7L638 476.9L639.8 476.9L641.6 477.3L643.4 478.3L645.3 477.7L647.1 478.3L648.9 480.1L650.7 481L652.5 481.3L654.3 481L656.2 480.7L658 480.7L659.8 480.5L661.6 480.1L663.4 479.8L665.2 478.3L667.1 479.3L668.9 479.5L670.7 478.3L672.5 477.1L674.3 478.9L676.1 479.5L678 478.9" fill="none" stroke="#ff0000" stroke-width="2.7" stroke-linejoin="miter" stroke-miterlimit="3" stroke-linecap="butt"/>
<path d="M104.5 484L105.4 462.3L106.5 435.2L107.2 420.7L108.3 418.9L110.1 420.7L111.9 424.4L113.4 428.9L114.8 433.4L116.3 430.7L118.1 426.2L119.9 423.5L121.3 420.7L122.4 421.6L123.5 431.6L125 442.4L126.4 448.8L127.8 450.6L129.3 453.3L130.4 447.9L131.5 438.8L132.9 433.4L134.4 430.7L135.8 428L137.3 428.9L138.7 433.4L139.8 435.2L140.9 428L142 418.9L143.4 411.7L144.5 412.6L145.6 419.8L146.7 426.2L147.7 431.6L148.8 422.5L149.9 413.5L151 409L152.1 412.6L153.2 419.8L154.6 427.1L156.1 426.2L157.5 423.5L158.2 402.3L159.4 381.7L160.7 359.4L161.3 351.6L162.4 354.2L163.4 366.2L164.4 381.7L165.5 396.3L166.5 397.2L167.5 381.7L168.6 368.8L169.6 371.4L170.6 386.8L171.6 402.3L172.7 408.3L173.7 393.7L174.7 367.9L175.8 335.3L176.8 355.9L177.8 381.7L178.9 407.5L179.5 410.9L180.6 404L182 393.7L183.7 389.4L185.4 387.7L186.8 386.8L187.8 376.5L188.8 359.4L189.9 345.6L190.9 345.6L191.9 359.4L192.9 381.7L194 417.1L194.8 424.4L196.2 423.5L197.6 422.9L199.5 423.5L200.9 425.3L202.2 428.9L203.1 435.2L204.2 441.5L205.2 444.2L206.7 442.4L208.1 439.7L209.2 440.6L210.7 444.2L212.1 446.1L213.6 445.2L215 443.3L216.5 444.6L217.9 446.4L219.3 447.9L220.8 447L222.2 445.2L223.7 446.1L225.1 447.9L226.6 451.5L228 456.9L229.5 462.3L230.9 465.9L232.4 468.7L233.8 468.7L235.3 465L236.7 461.4L238.2 458.7L239.6 456.9L241 456L242.5 459.6L243.9 463.2L245.4 462.3L246.8 460.5L248.3 458.7L249.7 458L250 458.4L251.3 457.2L252.7 458.8L254 461.1L255.4 459.9L256.8 450.9L258.1 439.6L259.5 438.5L260.8 443L262.2 445.2L263.5 432.8L264.9 421.5L265.8 417L267.2 422.6L268.5 430.6L269.9 435.1L271.2 432.8L272.6 430.6L273.9 426L275.3 420.4L276.6 414.7L278 418.1L279.4 422.6L280.7 426L282.1 429.4L283.4 432.8L284.8 437.3L286.1 443L287.5 446.4L288.4 439.6L289.8 421.5L291.1 403.4L292.5 389.9L293.8 380.8L295.2 387.6L296.5 403.4L297.9 419.2L299.2 424.9L300.6 428.3L302 432.8L303.3 437.3L304.7 439.6L306 437.3L307.4 433.9L308.7 432.8L310.1 435.1L311.5 432.8L312.8 430.6L314.2 427.2L315.5 421.5L316.9 420.4L318.2 426L319.6 439.6L320.9 446.4L322.3 439.6L323.7 432.8L325 435.1L326.4 441.9L327.7 443L329.1 439.6L330.4 433.9L331.8 428.3L333.2 422.6L334.5 415.9L335.9 410.2L337.2 405.7L338.6 406.8L339.9 412.5L341.3 412.5L342.6 407.9L344 406.8L345.4 410.2L346.7 422.6L348.1 435.1L349.4 436.2L350.8 426L352.1 415.9L353.5 418.1L354.9 424.9L356.2 435.1L357.6 436.2L358.9 435.1L360.3 426L361.6 418.1L363 420.4L364.3 429.4L365.7 438.5L367.1 440.7L368.4 435.1L369.8 428.3L371.1 426L372.5 426.5L373.8 424.9L375.2 422.6L376.6 420.4L377.9 419.2L378.8 424.9L379.7 439.6L380.6 454.3L382 444.1L383.3 432.8L384.7 430.6L386 437.3L387.4 448.6L388.8 456.5L390.1 452L391.5 447.5L393.3 448.6L394.6 450.4L395 450.9L396.8 449.8L398.6 449.1L399.9 453.2L401.3 464.5L402.7 469L404 466.7L405.8 462.2L407.6 459.9L409.4 458.8L410.8 462.2L412.2 466.7L413.5 467.8L414.9 464.5L416.7 461.1L418 464.5L419.4 466.7L421.2 465.6L423 464.5L424.8 465.6L426.6 466.7L428.4 464.5L430.2 462.2L431.6 464.5L432.9 467.8L434.8 469L436.6 467.8L438.4 466.7L440.2 466.3L442 465.6L444.2 466.3L446.5 464.5L448.3 462.2L449.7 461.1L451 464.5L452.8 467.8L454.6 470.8L456.5 472.4L458.3 473L460.1 473L461.9 473.5L463.7 474.6L465.5 475.8L467.3 476.9L469.1 478L470.9 478L472.7 476.9L474.5 474.6L476.3 471.7L478.2 470.1L480 471.2L481.8 472.4L483.1 475.3L484.9 476.9L487.2 476.9L489.5 475.8L491.7 475.8L494 475.8L496.2 476.2L498.5 476.7L500.8 476.9L503 476.4L505.3 475.3L507.1 473L508.9 471.2L510.7 471.2L512.5 471.2L514.8 471.7L517 473L519.3 473.5L521.6 473.5L523.8 474L526.1 473L528.3 473L530.6 473.5L532.9 474.6L534.7 476.2L536 478.5L537.8 476.9L539.6 474.1L539.6 474.6L541.1 473.5L542.9 472.9L544.7 469.8L545.9 468.4L547.1 469.8L548.9 471L550.8 474.7L552.6 478.3L554.4 477.1L556.2 475.6L558 475.9L559.8 476.5L561.7 475.9L563.5 474.7L565.3 474.1L567.1 474.1L568.9 472.3L570.7 469.8L572.6 469.2L574.4 469.2L576.2 470.1L578 472.3L579.8 475.3L581.6 477.7L583.5 475.9L585.3 474.1L587.1 474.1L588.9 474.7L590.7 473.5L592.5 471.6L594.4 474.7L595.6 477.1L596.8 474.7L598.6 471.6L600.4 471L602.2 471L604.1 471L605.9 472.9L607.7 473.5L609.5 471.6L611.3 471.6L613.1 473.2L615 474.4L617.4 474.7L619.8 474.7L622.2 474.7L624.7 474.7L627.1 474.7L629.5 474.7L631.9 474.7L633.4 475.3L634.6 478.3L635.8 478.9L637.4 475.9L639 472.9L640.4 471.6L642.2 472.9L644 474.7L645.9 474.1L647.7 471.6L649.5 468.6L650.7 469.8L651.9 474.1L653.1 477.1L654.3 475.9L655.6 473.5L657.4 471.6L659.2 471L661 471L662.8 471L664.6 471.6L666.5 473.5L668.3 474.7L670.1 472.9L671.9 472L673.7 471.6L675.5 472.3L677 474.1L678 474.7" fill="none" stroke="#0000ff" stroke-width="2.7" stroke-linejoin="miter" stroke-miterlimit="3" stroke-linecap="butt"/>
<line x1="176.1" y1="485.0" x2="176.1" y2="478.0" stroke="#1e1e1e" stroke-width="2.2"/>
<line x1="247.9" y1="485.0" x2="247.9" y2="478.0" stroke="#1e1e1e" stroke-width="2.2"/>
<line x1="319.8" y1="485.0" x2="319.8" y2="478.0" stroke="#1e1e1e" stroke-width="2.2"/>
<line x1="391.6" y1="485.0" x2="391.6" y2="478.0" stroke="#1e1e1e" stroke-width="2.2"/>
<line x1="463.4" y1="485.0" x2="463.4" y2="478.0" stroke="#1e1e1e" stroke-width="2.2"/>
<line x1="535.3" y1="485.0" x2="535.3" y2="478.0" stroke="#1e1e1e" stroke-width="2.2"/>
<line x1="607.1" y1="485.0" x2="607.1" y2="478.0" stroke="#1e1e1e" stroke-width="2.2"/>
<line x1="104.2" y1="397.6" x2="111.2" y2="397.6" stroke="#1e1e1e" stroke-width="2.2"/>
<text transform="translate(103.6,511.5) scale(1,1.04)" font-size="21" text-anchor="middle">0</text>
<text transform="translate(176.8,512) scale(1,1.04)" font-size="21" text-anchor="middle">5</text>
<text transform="translate(249.2,509.2) scale(1,1.04)" font-size="21" text-anchor="middle">10</text>
<text transform="translate(321.1,509.2) scale(1,1.04)" font-size="21" text-anchor="middle">15</text>
<text transform="translate(392.9,509.2) scale(1,1.04)" font-size="21" text-anchor="middle">20</text>
<text transform="translate(464.7,509.2) scale(1,1.04)" font-size="21" text-anchor="middle">25</text>
<text transform="translate(536.6,509.2) scale(1,1.04)" font-size="21" text-anchor="middle">30</text>
<text transform="translate(608.4,509.2) scale(1,1.04)" font-size="21" text-anchor="middle">35</text>
<text transform="translate(680.3,509.2) scale(1,1.04)" font-size="21" text-anchor="middle">40</text>
<text transform="translate(102.2,316.8) scale(1,1.04)" font-size="21" text-anchor="end">0.02</text>
<text transform="translate(102.2,404.1) scale(1,1.04)" font-size="21" text-anchor="end">0.01</text>
<text transform="translate(98.2,491.5) scale(1,1.04)" font-size="21" text-anchor="end">0</text>
<text x="392.5" y="531.9" font-size="24.5" text-anchor="middle">Vibration Frequency (THz)</text>
<text font-size="24.7" text-anchor="middle" transform="translate(43.2,389.0) rotate(-90)">PDOS (a.u.)</text>
<text transform="translate(394.0,349.1) scale(1,1.06)" font-size="24.5" text-anchor="middle">Forward</text>
<line x1="590.75" y1="337.8" x2="630.1" y2="337.8" stroke="#ff0000" stroke-width="2.5"/>
<line x1="590.75" y1="359.6" x2="630.1" y2="359.6" stroke="#0000ff" stroke-width="2.5"/>
<text transform="translate(634,345.3) scale(0.86,1.04)" font-size="21">C</text>
<text transform="translate(634,365.3) scale(0.86,1.04)" font-size="21">BN</text>
<text x="14.0" y="291.8" font-size="31.5" letter-spacing="1.1">(c)</text>
<rect x="807.0" y="310.3" width="575" height="174.7" fill="none" stroke="#202020" stroke-width="3.6"/>
<path d="M806.7 482.8L808 445.9L808.9 402.5L809.8 386.3L810.6 381.9L811.9 385.2L813.2 389.5L814.5 398.2L815.8 411.2L817.2 419.9L818.5 409.1L819.8 391.7L821.1 380.8L822.4 385.2L823.7 396L825 404.7L826.3 410.1L827.6 414.5L828.9 417.7L830.2 419.9L831.5 422.1L832.8 421.6L834.1 417.7L835.4 409.1L836.7 396L838 385.2L838.9 383L839.7 389.5L841 409.1L842.3 435.1L843.6 444.9L844.9 435.1L846.2 419.9L847.5 406.9L848.8 398.2L850.1 392.8L851.4 398.2L852.7 406.9L854 413.4L855.3 416.7L856.6 414.5L857.9 411.2L859.2 409.1L860.6 408.6L861.9 410.1L863.2 415.6L864.5 422.1L865.8 427.5L867.1 430.8L868.4 429.7L869.7 427.5L871 428.6L872.3 429.7L873.6 431.8L874.9 432.9L876.2 431.8L877.5 430.8L878.8 427.5L880.1 421L881.4 411.2L882.3 405.8L883.6 413.4L884.9 424.2L886.2 428.6L887.5 431.8L888.8 434L890.1 435.1L891.4 432.9L892.7 431.8L894 432.9L895.3 435.1L896.6 437.3L897.9 441.6L899.2 448.1L900.5 456.8L901.8 448.1L902.6 432.9L903.5 427.5L904.8 430.8L906.1 437.3L907.4 441.6L908.7 436.2L910 426.4L911.3 417.7L912.6 413.4L913.9 411.2L915.2 417.7L916.5 432.9L917.8 442.7L919.1 437.3L920.4 430.8L921.7 426.4L923 428.6L924.3 443.8L925.7 448.1L927 443.8L928.3 435.1L929.6 424.2L930.9 414.5L932.2 410.1L933.5 413.4L934.8 421L936.1 424.2L937.4 422.1L938.7 423.2L940 413.4L941.3 396L942.6 383L943.9 391.7L945.2 413.4L946.5 435.1L947.8 440.5L949.1 439.4L950.4 439L951.7 438.4L953 439.4L954.3 437.7L954.3 431.9L955.5 436.2L956.9 450L957.9 456L958.9 451.7L960 444.8L961 441L962.4 440.5L963.7 440L965.1 441.4L966.5 444.8L967.9 449.6L968.9 445.7L969.9 424.2L971 398.4L972 361.2L973 380.7L974.4 401.9L975.9 414.9L977.7 421.5L979.4 427.8L980.6 434.5L982 440L983 435.4L984.2 388.8L985.4 364.4L986.6 346.7L987.8 354.6L989 367.7L990.7 382.3L992.3 393.6L993.8 403.6L995.4 420.8L996.7 427.6L998.1 431.9L999.5 434.5L1000.5 433.7L1001.5 429.4L1002.6 425.1L1003.6 419.1L1004.6 413.9L1005.7 409.6L1006.7 405.3L1007.7 403.6L1008.8 407L1009.8 412.2L1011.2 424.2L1012.2 434.5L1013.2 446.5L1014.2 453.4L1015.3 456L1016.3 453.4L1017.7 448.3L1018.7 444.8L1020.1 445.7L1021.5 448.3L1022.8 451.7L1024.2 456.8L1025.6 462L1026.6 463.7L1027.6 461.1L1029 456.8L1030.1 454.3L1031.1 451.7L1032.5 448.3L1033.8 444.8L1034.9 441.4L1035.9 436.2L1036.9 429.4L1038 422.5L1039 417.3L1040 416.5L1041 419.1L1042.1 422.5L1043.1 425.9L1044.1 431.1L1045.5 436.2L1046.9 441.4L1048.3 444.8L1049.3 442.2L1050.3 437.9L1051.4 433.7L1052.4 431.1L1053.4 431.9L1054.4 433.7L1055.5 431.9L1056.5 429.4L1057.5 428.5L1058.6 431.9L1059.6 435.4L1060.6 438.8L1062 443.1L1063.4 448.3L1064.4 451.7L1065.4 453.4L1066.8 452.5L1068.2 448.3L1069.6 444.8L1070.9 442.2L1072.3 440.5L1073.7 439.3L1075.1 438.3L1076.4 437.1L1077.5 429.4L1078.8 419.1L1079.9 413L1080.9 417.3L1081.9 425.9L1083 432.8L1084 436.2L1085.4 432.8L1086.7 429.4L1088.1 431.9L1089.5 436.2L1090.9 437.9L1092.2 434.5L1093.6 425.9L1095 419.1L1096.4 416.5L1097.7 417.3L1099.1 419.1L1099.2 419.5L1100.5 424.4L1101.8 424.4L1103.1 422.8L1104.4 421.2L1105.7 422.8L1106.7 427.7L1108 433.4L1109.6 436.6L1111.3 438.7L1112.9 437.8L1114.5 436.6L1115.8 435L1116.8 429.3L1117.8 421.2L1118.8 416.3L1119.7 415L1120.7 417.1L1122 419.5L1123.3 422L1124.3 429.3L1125.3 437.4L1126.2 443.6L1127.5 443.1L1128.9 441.5L1130.2 439.1L1131.5 435.8L1132.8 432.5L1133.7 431.7L1134.7 435.8L1135.7 442.3L1137 444.8L1138 440.7L1138.9 435L1140.2 431.7L1141.5 431.7L1142.8 433.4L1144.2 435L1145.5 435L1146.8 435L1148.1 435.8L1149 440.7L1150.3 447.2L1151.6 452.9L1152.6 453.7L1153.9 449.6L1155.2 448L1156.2 452.1L1157.2 458.6L1158.1 464.3L1159.1 463.5L1160.1 457L1161.4 450.5L1162.4 447.2L1163.4 448.8L1164.7 453.7L1166 458.6L1167.3 462.7L1168.6 464.3L1169.9 462.7L1171.2 457L1172.5 450.5L1173.8 446.4L1175.1 443.1L1176.4 440.7L1177.7 440.7L1179 442.6L1180.3 442.6L1181.6 443.1L1182.9 443.1L1184.2 442L1185.5 439.1L1186.8 435L1187.8 433.4L1189.1 434.2L1190.4 436.6L1191.7 439.1L1192.6 441.5L1194 445.6L1195.3 450.5L1196.6 455.3L1197.9 460.2L1199.2 465.1L1200.5 468.4L1201.8 469.2L1203.1 469.2L1204.4 469.2L1205.7 469.2L1207.3 468.4L1208.9 469.2L1210.6 471.6L1212.2 474.1L1213.8 473.2L1215.4 471.6L1217.1 470.8L1218.7 472.4L1220.3 473.2L1221.9 475.7L1223.6 476.8L1225.2 475.7L1226.8 474.9L1228.5 474.5L1230.1 475.2L1231.7 476.5L1233.3 478.4L1235 479.7L1236.6 478.9L1238.2 477.3L1239.8 476.5L1241.5 475.2L1243.1 476.5L1244.4 477.1L1244.4 477.5L1246.1 477.3L1247.9 477.1L1249.7 476.5L1251.5 475.9L1253.3 475.9L1255.1 477.7L1257 479.3L1258.8 479.5L1260.6 477.7L1262.4 476.9L1264.2 477.7L1266 478.9L1267.9 479.3L1269.7 479.5L1271.5 478.9L1273.3 477.7L1275.1 477.1L1277 478.1L1278.8 478.3L1280.6 478.1L1282.4 478.3L1284.2 479.3L1286 478.9L1287.9 478.1L1289.7 477.3L1291.5 476.9L1293.3 477.3L1295.1 477.7L1296.9 478.3L1298.8 478.1L1300.6 479.3L1302.4 480.5L1304.2 481.7L1306 481.9L1307.8 480.1L1309.7 477.1L1311.5 475.3L1313.3 475.6L1314.9 477.1L1316.1 480.1L1317.3 481L1318.8 479.3L1320.6 477.7L1322.4 478.3L1324.2 478.1L1326 477.1L1327.8 476.9L1329.7 478.3L1331.1 480.1L1332.7 479.8L1334.5 477.7L1336.3 477.1L1338.1 478.3L1340 479.8L1341.8 480.5L1343.6 480.1L1345.4 479.5L1347.2 479.3L1349 479.3L1350.9 478.9L1352.7 478.3L1354.5 478.6L1356.3 478.9L1358.1 479.3L1359.9 479.3L1361.8 478.9L1363.6 478.3L1365.4 478.1L1367.2 478.3L1369 478.6L1370.8 478.3L1372.7 478.3L1374.5 478.6L1376.3 479.3L1377.9 480.7L1379.3 478.9L1380.5 477.1L1381.1 474.7" fill="none" stroke="#ff0000" stroke-width="2.7" stroke-linejoin="miter" stroke-miterlimit="3" stroke-linecap="butt"/>
<path d="M806.7 482.8L808 461.1L809.3 439.4L810.6 435.1L811.9 441.6L813.2 447L814.5 439.4L815.8 434L817.2 431.8L818.5 431.8L819.8 432.9L821.1 435.1L822.4 436.2L823.7 439L825 441.6L826.3 442.7L827.6 442.7L828.9 443.8L830.2 445.9L831.5 447L832.8 451.4L834.1 459L835.4 466.6L836.7 459L837.5 452.5L838.9 447L840.2 443.8L841.5 441.6L842.8 439.4L844.1 435.1L845.4 428.6L846.7 419.9L848 411.2L849.3 405.8L850.1 404.7L851.4 409.1L852.7 416.7L854 425.3L855.3 432.9L856.6 439.4L857.9 440.5L859.2 439.9L860.6 438.4L861.9 435.1L863.2 428.6L864.5 422.1L865.8 416.7L867.1 413.4L868.4 411.2L869.7 417.7L871 419.9L872.3 415.6L873.6 410.1L874.9 405.8L876.2 406.9L877.5 411.2L878.8 415.6L880.1 418.8L881.4 421L882.7 419.9L884 413.4L885.3 408L886.6 411.2L887.9 419.9L889.2 422.1L890.5 417.7L891.8 411.2L893.1 411.2L894.4 417.7L895.7 424.2L897 427.5L898.3 425.3L899.6 422.1L900.9 419.9L901.8 424.2L902.6 441.6L903.5 452.5L904.8 445.9L906.1 439.4L907.4 437.3L908.7 441.6L910 447L911.3 443.8L912.6 437.3L913.9 434L915.2 435.1L916.5 443.8L917.8 455.7L919.1 455.7L920.4 453.5L921.7 451.4L923.5 451.4L925.2 450.3L927 452L928.7 452.5L930.4 451.4L932.2 450.3L933.5 452.5L934.8 459L936.1 464.4L937.4 464.4L939.1 462.9L940.8 461.1L942.6 459L944.3 455.7L946 453.5L947.4 456.8L948.7 461.1L950 463.3L951.3 460.1L952.6 454.6L954.3 452.5L954.5 452.5L955.8 452.5L957.2 453.4L958.6 452.5L960 455.1L961.3 456.8L962.7 458.6L964.1 459.4L965.5 456.8L966.8 448.3L968.2 443.1L969.6 439.7L971 436.2L972.3 434.5L973.7 434.9L975.1 435.4L976.5 437.1L977.8 438.8L979.2 442.2L980.2 437.9L981.3 427.6L982.3 419.1L983.3 416.5L984.4 419.9L985.4 423.3L986.4 421.6L987.5 418.2L988.5 415.6L989.5 413L990.5 410.5L991.6 408.7L992.6 407L993.6 407.9L994.7 412.2L995.7 419.1L996.7 425.9L997.8 429.4L998.8 417.3L999.8 401.9L1001.2 391.4L1002.6 405.3L1003.6 410.5L1004.6 411.3L1005.7 407L1006.7 403.6L1007.7 401L1008.8 400.2L1009.8 404.4L1010.8 410.5L1011.8 415.6L1012.9 420.8L1013.9 425.1L1014.9 428.5L1016 431.9L1017 434.5L1018 437.1L1019.1 438.8L1020.1 440L1021.5 441.4L1022.8 443.1L1024.2 444.8L1025.6 447.4L1027 450L1028.3 453.4L1029.4 456L1030.4 451.7L1031.4 444.8L1032.5 437.1L1033.5 431.9L1034.5 437.9L1035.6 444.8L1036.6 446.5L1037.6 441.4L1038.6 436.2L1039.7 432.8L1041 431.1L1042.4 431.1L1043.8 431.9L1045.2 432.8L1046.5 434.5L1047.9 435.9L1049.3 436.2L1050.7 435.4L1051.7 432.8L1052.7 429.4L1053.8 425.9L1054.8 425.1L1055.8 428.5L1056.9 433.7L1057.9 438.8L1058.9 439.7L1059.9 436.2L1061 432.8L1062 431.9L1063 434.5L1064.1 440.5L1065.1 444.8L1066.1 446.5L1067.2 442.2L1068.2 434.5L1069.2 429.4L1070.3 432.8L1071.3 437.9L1072.3 441.4L1073.3 443.1L1074.4 444.8L1075.4 446.5L1076.4 446.5L1077.5 444.8L1078.5 442.2L1079.5 439.7L1080.6 438.8L1081.6 439.7L1082.6 441.4L1083.7 442.2L1084.7 439.7L1085.7 437.1L1086.7 435.4L1087.8 437.9L1088.8 444.8L1089.8 450L1090.9 452.5L1092.2 450L1093.6 449.1L1095 450L1096.4 450.8L1097.7 451.7L1099.1 452.2L1099.9 452.1L1101.5 452.9L1102.8 454.5L1104.1 457.8L1105.4 460.2L1106.7 462.7L1108 465.9L1109.3 463.5L1110.3 457.8L1111.3 456.1L1112.6 455.3L1113.9 455.3L1115.2 454.5L1116.2 455.3L1117.1 458.6L1118.1 461.8L1119.4 464.3L1120.7 466.7L1122 468.4L1123.3 469.2L1124.6 468.4L1125.9 466.7L1127.2 465.9L1128.5 467.1L1129.8 468.4L1131.1 468.4L1132.4 468L1133.7 467.5L1135 466.7L1136.3 465.1L1137.6 463.8L1138.9 465.1L1140.2 466.7L1141.5 468.7L1142.8 470.8L1144.2 472.4L1145.5 473.6L1146.8 474.5L1148.1 475.2L1149.4 474.1L1150.7 472.4L1152 471.9L1153.3 472.9L1154.6 473.6L1155.9 474.1L1157.2 474.5L1158.5 474.9L1159.8 474.1L1161.1 471.6L1162.4 469.2L1163.4 471.6L1164.7 474.9L1166 476.5L1166.9 474.1L1168.2 471.6L1169.5 470L1170.8 470.8L1172.1 473.2L1173.4 474.9L1174.7 474.1L1176 472.4L1177.4 471.6L1178.7 471.6L1180 472.4L1181.3 473.2L1182.6 474.1L1183.9 475.2L1185.2 476.5L1186.5 478.1L1187.8 477.8L1189.1 474.9L1190.4 470L1191.7 467.5L1193 468.4L1194.3 470L1195.6 471.6L1196.9 473.2L1198.2 474.1L1199.5 472.4L1200.8 470.3L1202.1 468.4L1203.4 470L1204.4 473.2L1205.7 476.5L1207 476.2L1208.3 474.9L1209.6 474.1L1210.9 474.5L1212.2 475.2L1213.5 474.9L1214.8 474.5L1216.1 474.1L1217.4 474.1L1218.7 475.2L1220 475.7L1221.3 474.9L1222.6 473.2L1223.9 471.6L1225.2 471.6L1226.5 472.4L1227.8 472.9L1229.1 472.4L1230.4 471.9L1231.7 472.9L1233 474.1L1234.3 475.7L1235.6 477.8L1236.9 476.5L1238.2 475.2L1239.5 474.1L1240.8 474.1L1242.1 474.5L1243.4 475.2L1244.4 474.4L1244.4 474.9L1246.1 475.3L1247.9 477.1L1249.1 478.3L1250.9 475.9L1252.7 474.4L1254.5 474.4L1256.4 474.4L1258.2 473.7L1260 473.2L1261.8 473.5L1263.6 474.1L1265.4 475.9L1267.3 476.9L1269.1 474.7L1270.9 473.5L1272.5 474.9L1273.9 476.5L1275.7 475.3L1277.6 474.7L1279.4 474.7L1281.2 474.7L1283 476.5L1284.8 478.3L1286.6 477.1L1288.5 476.9L1290.3 477.3L1292.1 478.1L1293.9 477.7L1295.7 477.3L1297.5 477.1L1299.4 477.1L1301.2 477.1L1302.8 474.7L1304.2 472.9L1306 471.6L1307.8 472.3L1309.7 473.5L1311.5 474.1L1313.3 474.7L1315.1 473.2L1316.9 472.3L1318.5 474.1L1320 476.5L1321.8 475.9L1323.6 475.3L1325.4 474.9L1327.2 474.1L1329.1 472.3L1330.9 470.4L1332.3 471.6L1333.5 475.9L1335.1 477.1L1336.9 477.1L1338.7 477.3L1340.6 478.1L1342.4 478.3L1344.2 477.7L1346 477.3L1347.8 477.1L1349.6 476.5L1351.2 474.1L1352.7 472.3L1354.1 474.1L1355.7 477.1L1357.5 476.5L1359.3 474.7L1361.2 475.9L1363 477.1L1364.8 477.1L1366.6 477.1L1368.4 476.9L1370.2 476.5L1372.1 477.7L1373.9 479.3L1375.7 477.1L1377.5 474.1L1378.7 473.2L1379.9 475.3L1380.8 476.5" fill="none" stroke="#0000ff" stroke-width="2.7" stroke-linejoin="miter" stroke-miterlimit="3" stroke-linecap="butt"/>
<ellipse cx="885.2" cy="429.8" rx="39" ry="35.8" fill="none" stroke="#111" stroke-width="3" stroke-dasharray="0 4.9" stroke-linecap="round"/>
<ellipse cx="1003.5" cy="414.2" rx="25.8" ry="35.4" fill="none" stroke="#111" stroke-width="3" stroke-dasharray="0 4.9" stroke-linecap="round"/>
<ellipse cx="1045" cy="435.1" rx="38.9" ry="29" fill="none" stroke="#111" stroke-width="3" stroke-dasharray="0 4.9" stroke-linecap="round"/>
<line x1="878.9" y1="485.0" x2="878.9" y2="478.0" stroke="#1e1e1e" stroke-width="2.2"/>
<line x1="950.8" y1="485.0" x2="950.8" y2="478.0" stroke="#1e1e1e" stroke-width="2.2"/>
<line x1="1022.6" y1="485.0" x2="1022.6" y2="478.0" stroke="#1e1e1e" stroke-width="2.2"/>
<line x1="1094.5" y1="485.0" x2="1094.5" y2="478.0" stroke="#1e1e1e" stroke-width="2.2"/>
<line x1="1166.4" y1="485.0" x2="1166.4" y2="478.0" stroke="#1e1e1e" stroke-width="2.2"/>
<line x1="1238.2" y1="485.0" x2="1238.2" y2="478.0" stroke="#1e1e1e" stroke-width="2.2"/>
<line x1="1310.1" y1="485.0" x2="1310.1" y2="478.0" stroke="#1e1e1e" stroke-width="2.2"/>
<line x1="807.0" y1="397.6" x2="814.0" y2="397.6" stroke="#1e1e1e" stroke-width="2.2"/>
<text transform="translate(808.7,511.5) scale(1,1.04)" font-size="21" text-anchor="middle">0</text>
<text transform="translate(879.6,512) scale(1,1.04)" font-size="21" text-anchor="middle">5</text>
<text transform="translate(952.0,509.2) scale(1,1.04)" font-size="21" text-anchor="middle">10</text>
<text transform="translate(1023.9,509.2) scale(1,1.04)" font-size="21" text-anchor="middle">15</text>
<text transform="translate(1095.8,509.2) scale(1,1.04)" font-size="21" text-anchor="middle">20</text>
<text transform="translate(1167.7,509.2) scale(1,1.04)" font-size="21" text-anchor="middle">25</text>
<text transform="translate(1239.5,509.2) scale(1,1.04)" font-size="21" text-anchor="middle">30</text>
<text transform="translate(1311.4,509.2) scale(1,1.04)" font-size="21" text-anchor="middle">35</text>
<text transform="translate(1383.3,509.2) scale(1,1.04)" font-size="21" text-anchor="middle">40</text>
<text transform="translate(805.0,316.8) scale(1,1.04)" font-size="21" text-anchor="end">0.02</text>
<text transform="translate(805.0,404.1) scale(1,1.04)" font-size="21" text-anchor="end">0.01</text>
<text transform="translate(801.0,491.5) scale(1,1.04)" font-size="21" text-anchor="end">0</text>
<text x="1098.4" y="531.9" font-size="24.5" text-anchor="middle">Vibration Frequency (THz)</text>
<text font-size="24.7" text-anchor="middle" transform="translate(745.8,389.0) rotate(-90)">PDOS (a.u.)</text>
<text transform="translate(1094.2,349.2) scale(1,1.06)" font-size="24.5" text-anchor="middle">Backward</text>
<line x1="1293.75" y1="337.8" x2="1333.1" y2="337.8" stroke="#ff0000" stroke-width="2.5"/>
<line x1="1293.75" y1="359.6" x2="1333.1" y2="359.6" stroke="#0000ff" stroke-width="2.5"/>
<text transform="translate(1337,345.3) scale(0.86,1.04)" font-size="21">C</text>
<text transform="translate(1337,365.3) scale(0.86,1.04)" font-size="21">BN</text>
<text x="719.0" y="290.8" font-size="31.5" letter-spacing="1.1">(d)</text>
</svg></body></html>
